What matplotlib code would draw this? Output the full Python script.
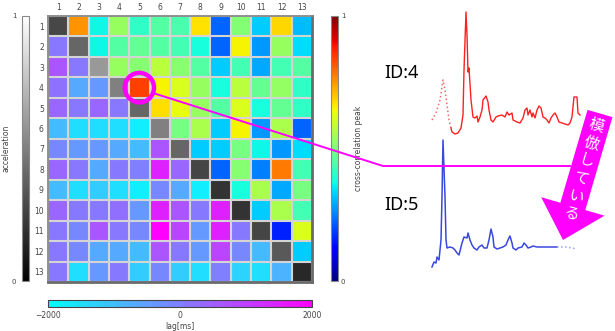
import numpy as np
import matplotlib
matplotlib.use('Agg')
import matplotlib.pyplot as plt
from matplotlib.patches import Circle, FancyArrow

plt.rcParams['font.family'] = ['DejaVu Sans', 'Noto Sans CJK JP']

# ---- data ----
ids = [str(i) for i in range(1, 14)]

# diagonal: acceleration (gray scale)
accel = [0.28, 0.40, 0.60, 0.50, 0.40, 0.50, 0.40, 0.27, 0.20, 0.20, 0.27, 0.35, 0.16]

# upper triangle: cross-correlation peak (row i, cols i+1..13)
peak_rows = [
    [0.75, 0.37, 0.535, 0.41, 0.45, 0.44, 0.67, 0.225, 0.51, 0.325, 0.68, 0.31],
    [0.37, 0.45, 0.47, 0.45, 0.43, 0.38, 0.225, 0.65, 0.275, 0.535, 0.34],
    [0.535, 0.515, 0.575, 0.515, 0.45, 0.325, 0.43, 0.29, 0.43, 0.45],
    [0.84, 0.65, 0.615, 0.535, 0.38, 0.575, 0.47, 0.53, 0.41],
    [0.675, 0.63, 0.535, 0.45, 0.615, 0.38, 0.47, 0.41],
    [0.495, 0.557, 0.325, 0.65, 0.275, 0.557, 0.225],
    [0.325, 0.325, 0.495, 0.37, 0.275, 0.342],
    [0.225, 0.515, 0.25, 0.78, 0.43],
    [0.38, 0.557, 0.29, 0.495],
    [0.325, 0.557, 0.43],
    [0.16, 0.615],
    [0.325],
]

# lower triangle: lag [ms] (row i, cols 1..i-1)
lag_rows = [
    [130],
    [670, 130],
    [200, -670, -400],
    [400, 130, 400, 130],
    [-930, -1470, -1470, -1470, -1730],
    [-130, -400, -400, -670, -930, 670],
    [400, 130, -670, 100, 0, 1470, 400],
    [-930, -1470, -1200, -1470, -1730, -130, -670, -1730],
    [400, 100, 100, 250, -400, 1470, 670, 100, 1470],
    [130, -130, 670, 130, -130, 2000, 930, -400, 1470, 100],
    [130, -130, -670, -670, -930, 670, 100, -400, 930, -130, -930],
    [130, -1470, -400, 100, -1200, -130, -1200, -1470, 0, -1300, -1470, -800],
]

# ID:4 trace (time, amplitude)
id4_dot_t = [2, 6, 10, 13, 15, 17, 19, 21]
id4_dot_a = [50, 57, 70, 90, 80, 65, 50, 42]
id4_t = [21, 22, 25, 28, 31, 33, 34, 36, 37, 38, 39, 41, 43, 45, 47, 48, 50, 52, 53, 56,
         58, 59, 61, 63, 66, 68, 72, 75, 77, 79, 82, 83, 87, 90, 93, 95, 97, 98, 100, 102,
         103, 105, 107, 109, 111, 113, 115, 117, 119, 121, 123, 125, 127, 129, 132, 135,
         138, 140, 142, 144, 147, 148, 150]
id4_a = [42, 38, 36, 37, 42, 55, 100, 158, 135, 98, 102, 70, 53, 52, 54, 48, 53, 60, 70, 74,
         68, 60, 50, 48, 53, 54, 55, 53, 58, 55, 57, 50, 48, 47, 52, 60, 62, 55, 60, 53,
         57, 52, 60, 64, 62, 53, 52, 50, 47, 52, 55, 57, 53, 48, 47, 46,
         45, 47, 53, 73, 73, 57, 55]

# ID:5 trace (time, amplitude)
id5_t = [2, 4, 6, 7, 9, 11, 12, 13, 15, 16, 17, 20, 23, 25, 27, 29, 32, 34, 37, 38, 40,
         42, 44, 47, 49, 52, 54, 57, 59, 61, 63, 64, 67, 70, 73, 76, 78, 80, 82, 83, 86,
         88, 92, 94, 96, 98, 101, 103, 107, 113, 120, 127]
id5_a = [8, 13, 12, 18, 15, 35, 78, 135, 78, 35, 27, 28, 27, 25, 22, 20, 32, 38, 37, 42, 35,
         30, 27, 25, 28, 30, 27, 27, 35, 46, 38, 28, 26, 27, 28, 30, 35, 39, 32, 27, 25,
         27, 28, 32, 30, 27, 28, 29, 28, 28, 28, 28]
id5_dot_t = [127, 132, 137, 142, 147]
id5_dot_a = [28, 28, 28, 27, 26]

highlight = (4, 5)  # ID:4 row, ID:5 column
arrow_text = '模倣している'

# ---- build matrices ----
n = len(ids)
acc_m = np.ma.masked_all((n, n))
peak_m = np.ma.masked_all((n, n))
lag_m = np.ma.masked_all((n, n))
for i in range(n):
    acc_m[i, i] = accel[i]
    if i < n - 1:
        peak_m[i, i + 1:] = peak_rows[i]
    if i > 0:
        lag_m[i, :i] = lag_rows[i - 1]

W, H = 615, 331
fig = plt.figure(figsize=(W / 100, H / 100), dpi=100)

def box(x0, y0, x1, y1):
    return [x0 / W, 1 - y1 / H, (x1 - x0) / W, (y1 - y0) / H]

ax = fig.add_axes(box(48, 16, 312, 282))
im_acc = ax.imshow(acc_m, cmap='gray', vmin=0, vmax=1, interpolation='nearest', aspect='auto')
im_peak = ax.imshow(peak_m, cmap='jet', vmin=0, vmax=1, interpolation='nearest', aspect='auto')
im_lag = ax.imshow(lag_m, cmap='cool', vmin=-2000, vmax=2000, interpolation='nearest', aspect='auto')

ax.set_xticks(range(n))
ax.set_yticks(range(n))
ax.set_xticklabels(ids)
ax.set_yticklabels(ids)
ax.xaxis.tick_top()
ax.tick_params(which='major', length=0, labelsize=5.5, labelcolor='#444444', pad=3)
ax.set_xticks(np.arange(-0.5, n, 1), minor=True)
ax.set_yticks(np.arange(-0.5, n, 1), minor=True)
ax.tick_params(which='minor', length=0)
ax.grid(which='minor', color='#d4d4d4', linewidth=1.5)
ax.grid(which='major', visible=False)
for name, sp in ax.spines.items():
    sp.set_color('#888888' if name in ('top', 'left') else '#6a6a6a')
    sp.set_linewidth(1.3 if name in ('top', 'left') else 2.0)
ax.set_xlim(-0.5, n - 0.5)
ax.set_ylim(n - 0.5, -0.5)

r, c = highlight
ax.add_patch(Circle((c - 1, r - 1), 0.72, fill=False, edgecolor='#FF00FF',
                    linewidth=3.2, clip_on=False, zorder=5))

# colorbars
cax_l = fig.add_axes(box(22, 16, 29, 281))
cb = fig.colorbar(im_acc, cax=cax_l, ticks=[0, 1])
cax_l.yaxis.set_ticks_position('left')
cax_l.yaxis.set_label_position('left')
cb.set_label('acceleration', fontsize=5.5, color='#444444', labelpad=1)
cax_l.tick_params(length=0, labelsize=5, labelcolor='#444444', pad=4)
cb.outline.set_edgecolor('#888888')

cax_r = fig.add_axes(box(331, 16, 338, 281))
cb = fig.colorbar(im_peak, cax=cax_r, ticks=[0, 1])
cb.set_label('cross-correlation peak', fontsize=5.5, color='#444444', labelpad=6)
cax_r.tick_params(length=0, labelsize=5, labelcolor='#444444', pad=2)
cb.outline.set_edgecolor('#888888')

cax_b = fig.add_axes(box(48, 300, 312, 307))
cb = fig.colorbar(im_lag, cax=cax_b, orientation='horizontal', ticks=[-2000, 0, 2000])
cb.set_label('lag[ms]', fontsize=5.5, color='#444444', labelpad=1)
cax_b.tick_params(length=0, labelsize=5.5, labelcolor='#444444', pad=3)
cb.outline.set_edgecolor('#444444')

# traces
ax4 = fig.add_axes(box(430, 0, 582, 170))
ax4.plot(id4_dot_t, id4_dot_a, color='#F06A6A', linestyle=':', linewidth=1.1)
ax4.plot(id4_t, id4_a, color='#FF2020', linewidth=1.0)
ax4.set_xlim(0, 152)
ax4.set_ylim(0, 170)
ax4.axis('off')

ax5 = fig.add_axes(box(430, 130, 582, 275))
ax5.plot(id5_t, id5_a, color='#3A48DD', linewidth=1.1)
ax5.plot(id5_dot_t, id5_dot_a, color='#9AA4EE', linestyle=':', linewidth=1.1)
ax5.set_xlim(0, 152)
ax5.set_ylim(0, 145)
ax5.axis('off')

# overlay in pixel units for annotations
ov = fig.add_axes([0, 0, 1, 1])
ov.set_xlim(0, W)
ov.set_ylim(H, 0)
ov.axis('off')
ov.patch.set_alpha(0)

ov.plot([153, 383, 570], [93, 166, 166], color='#FF00FF', linewidth=1.4)
ov.text(401, 73, 'ID:4', fontsize=13, ha='center', va='center', family=['Noto Sans'])
ov.text(401, 205, 'ID:5', fontsize=13, ha='center', va='center', family=['Noto Sans'])

ov.add_patch(FancyArrow(600, 113.5, -37, 126.5, width=26, head_width=66, head_length=35,
                        length_includes_head=True, color='#FF00FF', linewidth=0))
ux, uy = -0.281, 0.960
for k, ch in enumerate(arrow_text):
    d = 13 + 18.3 * k
    ov.text(600 + ux * d, 113.5 + uy * d, ch, color='white', fontsize=11, rotation=-16,
            rotation_mode='anchor', ha='center', va='center',
            family=['Noto Sans CJK JP', 'DejaVu Sans'])

fig.savefig('out.png', dpi=100)
